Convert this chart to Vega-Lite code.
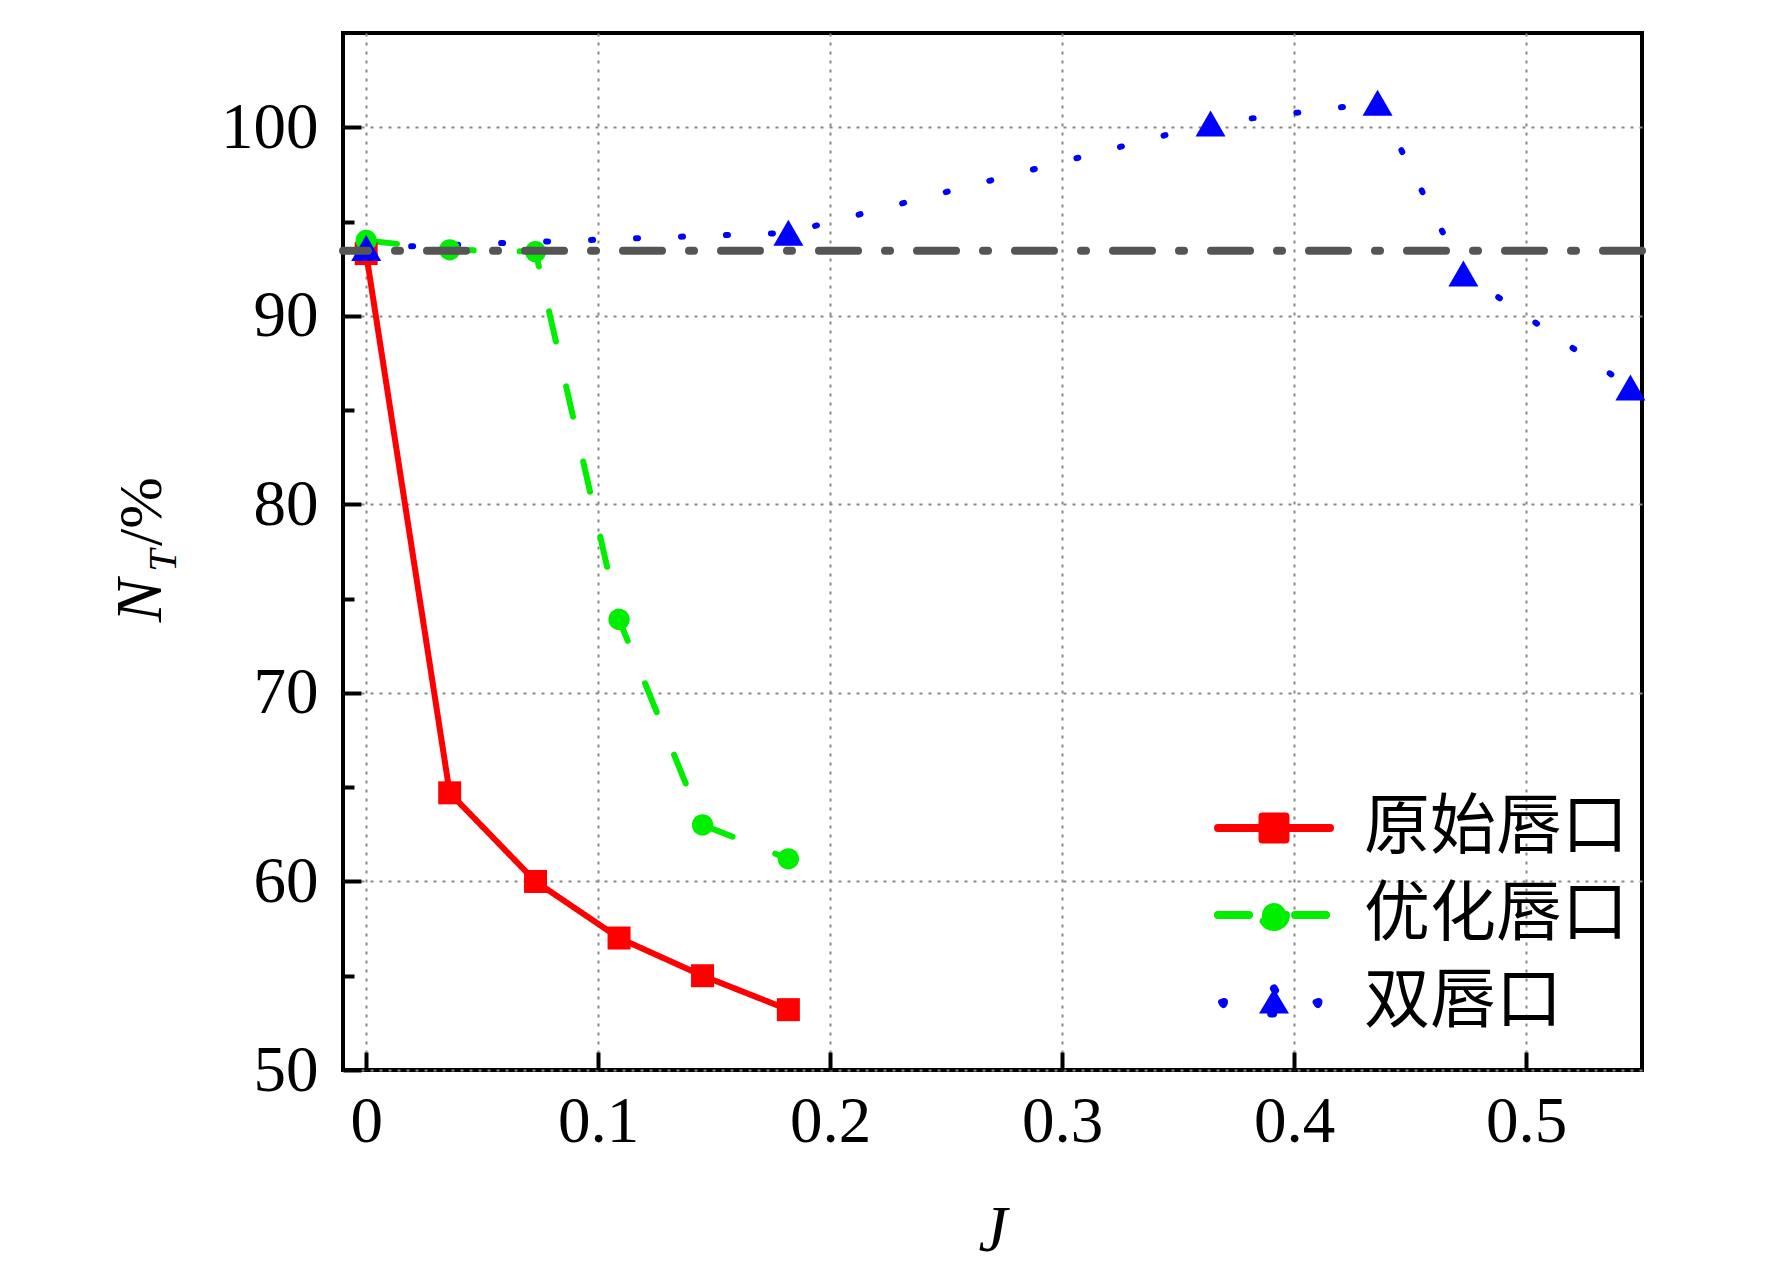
{
  "$schema": "https://vega.github.io/schema/vega-lite/v6.json",
  "width": 1299,
  "height": 1037,
  "autosize": {"type": "none"},
  "padding": {"left": 343, "top": 33, "right": 130, "bottom": 206},
  "background": "white",
  "config": {
    "view": {"stroke": "black", "strokeWidth": 4},
    "font": "Liberation Serif"
  },
  "datasets": {
    "series": [
      {"J": 0, "NT": 93.3, "s": "原始唇口"},
      {"J": 0.036, "NT": 64.7, "s": "原始唇口"},
      {"J": 0.073, "NT": 60.0, "s": "原始唇口"},
      {"J": 0.109, "NT": 57.0, "s": "原始唇口"},
      {"J": 0.145, "NT": 55.0, "s": "原始唇口"},
      {"J": 0.182, "NT": 53.2, "s": "原始唇口"},
      {"J": 0, "NT": 94.0, "s": "优化唇口"},
      {"J": 0.036, "NT": 93.5, "s": "优化唇口"},
      {"J": 0.073, "NT": 93.4, "s": "优化唇口"},
      {"J": 0.109, "NT": 73.9, "s": "优化唇口"},
      {"J": 0.145, "NT": 63.0, "s": "优化唇口"},
      {"J": 0.182, "NT": 61.2, "s": "优化唇口"},
      {"J": 0, "NT": 93.6, "s": "双唇口"},
      {"J": 0.182, "NT": 94.4, "s": "双唇口"},
      {"J": 0.364, "NT": 100.2, "s": "双唇口"},
      {"J": 0.436, "NT": 101.3, "s": "双唇口"},
      {"J": 0.473, "NT": 92.25, "s": "双唇口"},
      {"J": 0.545, "NT": 86.2, "s": "双唇口"}
    ],
    "ref": [{"NT": 93.45}]
  },
  "layer": [
    {
      "data": {"name": "series"},
      "mark": {"type": "line", "strokeWidth": 6, "strokeCap": "round", "strokeJoin": "round"},
      "encoding": {
        "x": {
          "field": "J", "type": "quantitative",
          "scale": {"domain": [-0.01, 0.55], "nice": false, "zero": false},
          "axis": {
            "values": [0, 0.1, 0.2, 0.3, 0.4, 0.5],
            "labelExpr": "datum.value == 0 ? '0' : format(datum.value, '.1f')",
            "domain": false,
            "ticks": true, "tickSize": -18, "tickWidth": 4, "tickColor": "black",
            "grid": true, "gridColor": "#888888", "gridWidth": 2, "gridDash": [3, 6],
            "labelFont": "Liberation Serif", "labelFontSize": 65, "labelColor": "black", "labelPadding": 38,
            "title": "J", "titleFont": "Liberation Serif", "titleFontSize": 65, "titleFontStyle": "italic",
            "titleFontWeight": "normal", "titleColor": "black", "titlePadding": 45
          }
        },
        "y": {
          "field": "NT", "type": "quantitative",
          "scale": {"domain": [50, 105], "nice": false, "zero": false},
          "axis": {
            "orient": "left",
            "values": [50, 60, 70, 80, 90, 100],
            "domain": false,
            "ticks": true, "tickSize": -18, "tickWidth": 4, "tickColor": "black",
            "grid": true, "gridColor": "#888888", "gridWidth": 2, "gridDash": [3, 6],
            "labelFont": "Liberation Serif", "labelFontSize": 65, "labelColor": "black", "labelPadding": 43,
            "title": "N", "titleFont": "Liberation Serif", "titleFontSize": 65, "titleFontStyle": "italic",
            "titleFontWeight": "normal", "titleColor": "black",
            "titleAngle": 270, "titleAlign": "center", "titleBaseline": "alphabetic",
            "titleX": -183, "titleY": 567
          }
        },
        "color": {
          "field": "s", "type": "nominal",
          "scale": {"domain": ["原始唇口", "优化唇口", "双唇口"], "range": ["#ff0000", "#00ee00", "#0000ff"]},
          "legend": {
            "orient": "none", "legendX": 898, "legendY": 762,
            "title": null, "padding": 0,
            "symbolSize": 400, "symbolStrokeWidth": 8,
            "labelFont": "Noto Sans CJK SC", "labelFontSize": 66, "labelColor": "black", "labelLimit": 0,
            "labelOffset": 57, "rowPadding": 21,
            "encode": {
              "symbols": {
                "update": {
                  "shape": {"signal": "datum.value === '原始唇口' ? 'M-5.6,0H5.6M-1.15,-1.15H1.15V1.15H-1.15Z' : datum.value === '优化唇口' ? 'M-5.6,0H-2.1M2.1,0H5.6M1.2,0A1.2,1.2,0,1,1,-1.2,0A1.2,1.2,0,1,1,1.2,0Z' : 'M-5.0,0A0.3,0.3,0,1,1,-5.6,0A0.3,0.3,0,1,1,-5.0,0ZM4.45,0A0.3,0.3,0,1,1,3.85,0A0.3,0.3,0,1,1,4.45,0ZM0,-1.35L1.5,1.15L-1.5,1.15Z'"},
                  "fill": {"signal": "datum.value === '原始唇口' ? '#ff0000' : datum.value === '优化唇口' ? '#00ee00' : '#0000ff'"},
                  "stroke": {"signal": "datum.value === '原始唇口' ? '#ff0000' : datum.value === '优化唇口' ? '#00ee00' : '#0000ff'"},
                  "strokeWidth": {"value": 8},
                  "strokeCap": {"value": "round"},
                  "strokeJoin": {"value": "round"},
                  "strokeDash": {"value": [1, 0]},
                  "opacity": {"value": 1},
                  "fillOpacity": {"value": 1},
                  "strokeOpacity": {"value": 1}
                }
              }
            }
          }
        },
        "strokeDash": {
          "field": "s", "type": "nominal",
          "scale": {"domain": ["原始唇口", "优化唇口", "双唇口"], "range": [[1, 0], [31, 46], [2, 43]]},
          "legend": null
        }
      }
    },
    {
      "data": {"name": "series"},
      "transform": [{"filter": "datum.s === '原始唇口'"}],
      "mark": {"type": "point", "filled": true, "opacity": 1, "shape": "square", "size": 529, "color": "#ff0000"},
      "encoding": {
        "x": {"field": "J", "type": "quantitative"},
        "y": {
          "field": "NT", "type": "quantitative",
          "axis": {
            "orient": "left", "domain": false, "ticks": false, "labels": false, "grid": false,
            "title": "T", "titleFont": "Liberation Serif", "titleFontSize": 40, "titleFontStyle": "italic",
            "titleFontWeight": "normal", "titleColor": "black",
            "titleAngle": 270, "titleAlign": "center", "titleBaseline": "alphabetic",
            "titleX": -168, "titleY": 527
          }
        }
      }
    },
    {
      "data": {"name": "series"},
      "transform": [{"filter": "datum.s === '优化唇口'"}],
      "mark": {"type": "point", "filled": true, "opacity": 1, "shape": "circle", "size": 452, "color": "#00ee00"},
      "encoding": {
        "x": {"field": "J", "type": "quantitative"},
        "y": {
          "field": "NT", "type": "quantitative",
          "axis": {
            "orient": "left", "domain": false, "ticks": false, "labels": false, "grid": false,
            "title": "/%", "titleFont": "Liberation Serif", "titleFontSize": 62, "titleFontStyle": "normal",
            "titleFontWeight": "normal", "titleColor": "black",
            "titleAngle": 270, "titleAlign": "center", "titleBaseline": "alphabetic",
            "titleX": -183, "titleY": 478
          }
        }
      }
    },
    {
      "data": {"name": "series"},
      "transform": [{"filter": "datum.s === '双唇口'"}],
      "mark": {"type": "point", "filled": true, "opacity": 1, "shape": "triangle-up", "size": 900, "color": "#0000ff"},
      "encoding": {
        "x": {"field": "J", "type": "quantitative"},
        "y": {"field": "NT", "type": "quantitative", "axis": null}
      }
    },
    {
      "data": {"name": "ref"},
      "mark": {"type": "rule", "color": "#555555", "strokeWidth": 8, "strokeCap": "round", "strokeDash": [39, 27, 5, 27]},
      "encoding": {
        "y": {
          "field": "NT", "type": "quantitative",
          "axis": {
            "orient": "left",
            "values": [55, 65, 75, 85, 95],
            "domain": false, "labels": false, "grid": false,
            "ticks": true, "tickSize": -11, "tickWidth": 4, "tickColor": "black",
            "title": null
          }
        }
      }
    }
  ],
  "resolve": {"axis": {"y": "independent"}}
}
